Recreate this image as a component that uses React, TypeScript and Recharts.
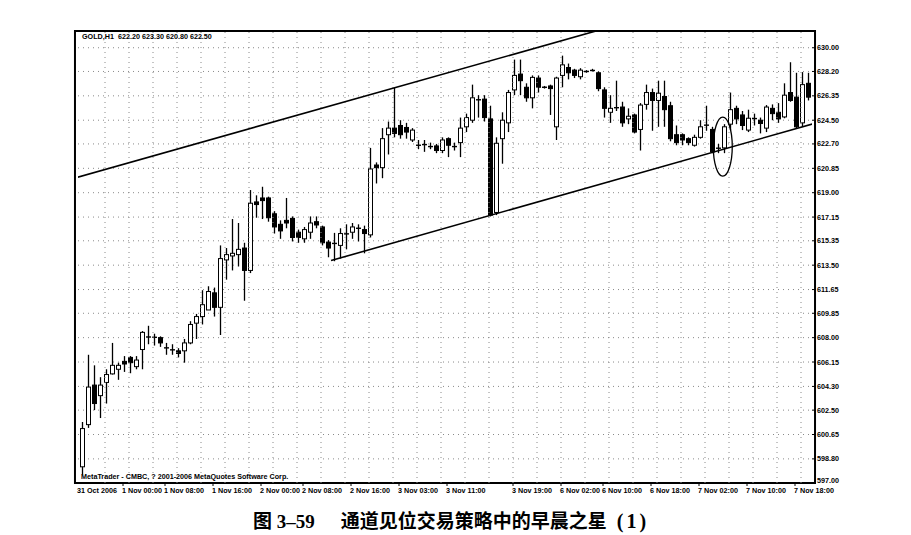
import React from 'react'
import {
  ComposedChart,
  Bar,
  XAxis,
  YAxis,
  CartesianGrid,
  ReferenceLine,
  ReferenceArea,
  ReferenceDot,
} from 'recharts'

// GOLD H1, 31 Oct – 7 Nov 2006
const opens = [
  598.2, 601.4, 604.4, 603.6, 604.6, 605.25, 605.6, 606.2, 606.5, 605.8,
  607.1, 608.0, 608.0, 608.0, 607.2, 607.1, 607.0, 607.0, 607.6, 609.1,
  609.6, 610.1, 611.4, 610.3, 613.9, 614.2, 614.3, 614.8, 613.1, 618.3,
  618.6, 618.6, 617.4, 616.6, 616.9, 617.05, 616.0, 615.5, 616.0, 616.8,
  616.4, 615.25, 615.1, 615.0, 615.85, 616.0, 616.3, 616.2, 615.8, 621.1,
  620.9, 623.4, 623.9, 624.1, 623.95, 623.0, 622.6, 622.6, 622.5, 622.55,
  622.2, 623.1, 622.5, 622.8, 624.0, 624.5, 626.1, 626.1, 624.6, 617.5,
  623.1, 624.3, 626.8, 628.0, 627.0, 626.2, 627.7, 627.0, 627.1, 624.0,
  627.9, 628.5, 628.3, 627.8, 628.2, 628.25, 628.1, 626.8, 625.1, 625.5,
  625.5, 624.6, 624.9, 623.8, 625.7, 626.6, 626.0, 626.3, 625.6, 623.4,
  623.4, 623.1, 622.6, 623.2, 624.1, 623.8, 622.35, 622.4, 624.2, 625.4,
  624.9, 623.75, 624.6, 624.5, 623.9, 625.4, 625.1, 624.75, 626.6, 626.25,
  624.3, 627.3,
]
const highs = [
  601.6, 606.7, 605.9, 605.0, 605.6, 607.6, 606.1, 606.6, 606.6, 606.6,
  608.5, 608.9, 608.3, 608.1, 607.6, 607.5, 607.2, 607.9, 609.25, 609.8,
  611.6, 611.9, 611.8, 615.0, 614.8, 617.0, 616.7, 615.2, 619.2, 618.8,
  619.45, 618.7, 617.6, 616.9, 618.6, 617.2, 616.2, 616.4, 617.2, 617.2,
  616.5, 615.4, 615.95, 616.3, 616.6, 616.7, 616.6, 616.5, 622.4, 621.3,
  623.9, 624.4, 626.95, 624.5, 624.3, 623.9, 623.0, 623.0, 622.8, 622.7,
  623.2, 623.2, 622.8, 624.7, 625.0, 627.2, 626.4, 626.4, 625.6, 623.2,
  625.1, 626.8, 629.1, 629.1, 627.3, 627.9, 627.9, 627.1, 627.2, 627.8,
  629.4, 628.8, 628.4, 628.45, 628.3, 628.4, 628.2, 627.0, 626.4, 627.5,
  625.9, 625.4, 625.0, 625.8, 627.2, 626.9, 627.5, 627.5, 625.9, 624.1,
  623.5, 623.2, 623.4, 624.5, 625.6, 624.0, 622.7, 624.2, 626.6, 625.6,
  625.2, 625.3, 625.0, 624.7, 625.65, 625.7, 625.8, 627.3, 628.9, 628.1,
  628.15, 628.1,
]
const lows = [
  597.6, 601.15, 602.5, 601.9, 603.0, 605.2, 604.8, 605.4, 605.3, 605.6,
  605.6, 607.5, 607.4, 607.3, 606.7, 606.7, 606.5, 606.1, 607.5, 607.9,
  609.0, 610.1, 609.6, 608.2, 612.4, 613.1, 613.4, 610.8, 612.9, 617.1,
  617.0, 616.8, 615.9, 615.5, 616.3, 615.3, 615.2, 615.2, 615.5, 616.3,
  615.0, 614.1, 613.8, 614.0, 614.7, 615.5, 615.3, 614.4, 615.6, 619.7,
  620.1, 621.9, 623.2, 623.1, 623.1, 622.85, 622.3, 622.1, 622.3, 622.0,
  622.0, 621.7, 622.2, 621.7, 623.6, 624.3, 624.7, 624.4, 617.2, 617.3,
  621.2, 623.6, 626.4, 626.4, 625.9, 625.4, 626.6, 626.9, 624.9, 623.0,
  627.0, 627.6, 627.7, 627.6, 628.1, 628.2, 626.7, 624.7, 624.3, 625.2,
  624.0, 624.2, 623.5, 622.2, 625.3, 623.7, 624.0, 624.0, 622.9, 622.6,
  622.6, 622.6, 622.5, 623.1, 623.7, 622.0, 622.0, 622.0, 623.75, 624.2,
  623.75, 623.6, 624.1, 623.5, 623.6, 624.5, 624.3, 624.65, 625.9, 623.9,
  624.0, 626.0,
]
const closes = [
  601.1, 604.25, 603.0, 604.4, 605.2, 605.9, 605.9, 606.0, 606.1, 606.3,
  608.4, 608.1, 608.05, 607.6, 607.25, 607.05, 606.8, 607.6, 609.0, 609.6,
  610.5, 611.5, 610.3, 614.0, 614.3, 614.4, 614.7, 613.1, 618.2, 618.1,
  618.4, 617.1, 616.4, 616.1, 616.7, 615.6, 615.6, 616.2, 616.7, 616.55,
  615.2, 614.8, 615.2, 615.9, 615.9, 616.4, 616.3, 615.9, 620.8, 620.9,
  623.1, 623.9, 623.5, 623.4, 623.6, 623.75, 622.6, 622.7, 622.5, 622.2,
  623.0, 622.6, 622.5, 623.9, 624.7, 626.2, 626.0, 624.7, 617.3, 622.75,
  624.5, 626.6, 627.9, 627.5, 626.2, 627.75, 627.0, 627.0, 626.9, 627.7,
  628.7, 628.1, 627.9, 628.3, 628.2, 628.3, 626.9, 625.4, 625.4, 625.4,
  624.3, 624.8, 623.6, 625.65, 626.6, 626.0, 626.55, 625.3, 623.1, 622.8,
  623.0, 622.8, 623.2, 624.0, 624.15, 622.1, 622.4, 624.0, 625.3, 624.6,
  624.1, 624.65, 624.65, 624.25, 625.5, 625.0, 624.6, 626.4, 626.0, 624.0,
  627.2, 626.25,
]

const priceTicks = [
  597.0, 598.8, 600.65, 602.5, 604.3, 606.15, 608.0, 609.85, 611.65, 613.5,
  615.35, 617.15, 619.0, 620.85, 622.7, 624.5, 626.35, 628.2, 630.0,
]
const timeTickBars = [0, 7, 14, 22, 30, 37, 45, 53, 61, 72, 80, 87, 95, 103, 111, 119]
const timeTickLabels = [
  '31 Oct 2006', '1 Nov 00:00', '1 Nov 08:00', '1 Nov 16:00', '2 Nov 00:00',
  '2 Nov 08:00', '2 Nov 16:00', '3 Nov 03:00', '3 Nov 11:00', '3 Nov 19:00',
  '6 Nov 02:00', '6 Nov 10:00', '6 Nov 18:00', '7 Nov 02:00', '7 Nov 10:00',
  '7 Nov 18:00',
]

// channel lines: [bar, price] end points
const upperChannel: [number, number][] = [[-0.5, 620.12], [121.83, 635.96]]
const lowerChannel: [number, number][] = [[41.83, 613.85], [121.83, 624.27]]
const morningStar = { bar: 106.58, price: 622.5 }

const Y_MIN = 596.97
const Y_MAX = 631.27
const X_LAST = 121.83

const data = opens.map((o, i) => ({
  i,
  o,
  h: highs[i],
  l: lows[i],
  c: closes[i],
  range: [lows[i], highs[i]],
}))

const gridBars = data.filter((d) => d.i % 4 === 0 && d.i > 0).map((d) => d.i)

const FONT = '"Liberation Sans", Arial, sans-serif'
const GRID = '#8a8a8a'

function Candle(props: any) {
  const { x, y, width, height, payload } = props
  if (x == null || y == null || !payload) return null
  const top = Math.min(y, y + height)
  const span = Math.abs(height)
  const { o, h, l, c } = payload
  const k = h > l ? span / (h - l) : 0
  const py = (v: number) => top + (h - v) * k
  const cx = Math.round(x + width / 2) + 0.5
  const bTop = py(Math.max(o, c))
  const bBot = py(Math.min(o, c))
  const up = c >= o
  return (
    <g>
      <line x1={cx} x2={cx} y1={top} y2={top + span} stroke="#000" strokeWidth={1.3} />
      {bBot - bTop < 1.5 ? (
        <line x1={cx - 2.5} x2={cx + 2.5} y1={(bTop + bBot) / 2} y2={(bTop + bBot) / 2} stroke="#000" strokeWidth={1.4} />
      ) : (
        <rect x={cx - 2} y={bTop} width={4} height={bBot - bTop} fill={up ? '#fff' : '#000'} stroke="#000" strokeWidth={1} />
      )}
    </g>
  )
}

function TimeTick(props: any) {
  const { x, y, payload } = props
  const idx = timeTickBars.indexOf(payload.value)
  if (idx < 0) return null
  const first = idx === 0
  return (
    <g>
      {!first && <line x1={x} x2={x} y1={y - 8} y2={y - 5} stroke="#000" strokeWidth={1} />}
      <text x={first ? x - 4 : x - 1} y={y + 2} fontSize={7.2} fontWeight="bold" fontFamily={FONT} fill="#000">
        {timeTickLabels[idx]}
      </text>
    </g>
  )
}

function PriceTick(props: any) {
  const { x, y, payload } = props
  const lift = payload.value === priceTicks[0] ? -2 : 0
  return (
    <text x={x} y={y + lift} dy="0.355em" fontSize={7.2} fontWeight="bold" fontFamily={FONT} fill="#000">
      {Number(payload.value).toFixed(2)}
    </text>
  )
}

function Ellipse(props: any) {
  const { cx, cy } = props
  if (cx == null) return null
  return <ellipse cx={cx} cy={cy} rx={9.5} ry={29.5} fill="none" stroke="#000" strokeWidth={1.3} />
}

export default function App() {
  return (
    <div style={{ position: 'absolute', left: 0, top: 0, width: 911, height: 535, background: '#fff' }}>
      <ComposedChart
        width={911}
        height={535}
        data={data}
        margin={{ top: 31, right: 0, left: 78, bottom: 32 }}
      >
        <CartesianGrid vertical={false} stroke={GRID} strokeDasharray="1 4" />
        <XAxis
          dataKey="i"
          type="category"
          ticks={timeTickBars}
          interval={0}
          tick={<TimeTick />}
          tickLine={false}
          axisLine={false}
          tickSize={6}
          tickMargin={2}
          height={20}
          padding={{ left: 0, right: 2 }}
        />
        <XAxis
          xAxisId="num"
          type="number"
          domain={[-0.5, 121.5]}
          allowDataOverflow
          hide
          height={0}
          padding={{ left: 0, right: 2 }}
        />
        <YAxis
          orientation="right"
          width={99}
          domain={[Y_MIN, Y_MAX]}
          allowDataOverflow
          ticks={priceTicks}
          interval={0}
          tick={<PriceTick />}
          tickLine={{ stroke: '#000' }}
          tickSize={3}
          tickMargin={2}
          axisLine={false}
        />
        {gridBars.map((b) => (
          <ReferenceLine key={b} x={b} stroke={GRID} strokeDasharray="1 4" />
        ))}
        <Bar dataKey="range" barSize={5} shape={<Candle />} isAnimationActive={false} />
        <ReferenceLine
          xAxisId="num"
          segment={upperChannel.map(([x, y]) => ({ x, y }))}
          stroke="#000"
          strokeWidth={1.6}
          ifOverflow="hidden"
        />
        <ReferenceLine
          xAxisId="num"
          segment={lowerChannel.map(([x, y]) => ({ x, y }))}
          stroke="#000"
          strokeWidth={1.6}
          ifOverflow="hidden"
        />
        <ReferenceDot
          xAxisId="num"
          x={morningStar.bar}
          y={morningStar.price}
          shape={<Ellipse />}
        />
        <ReferenceArea
          xAxisId="num"
          x1={-0.5}
          x2={X_LAST}
          y1={Y_MIN}
          y2={Y_MAX}
          fill="none"
          stroke="#000"
          strokeWidth={2}
          ifOverflow="visible"
        />
      </ComposedChart>

      <div style={{ position: 'absolute', left: 82, top: 33, fontSize: 7.2, lineHeight: '8px', fontWeight: 'bold', fontFamily: FONT, whiteSpace: 'pre' }}>
        GOLD,H1  622.20 623.30 620.80 622.50
      </div>
      <div style={{ position: 'absolute', left: 81, top: 473, fontSize: 7.2, lineHeight: '8px', fontWeight: 'bold', fontFamily: FONT, whiteSpace: 'pre' }}>
        MetaTrader - CMBC, ? 2001-2006 MetaQuotes Software Corp.
      </div>
      <div
        style={{
          position: 'absolute',
          left: 253,
          top: 508,
          fontSize: 19,
          lineHeight: '24px',
          fontWeight: 700,
          fontFamily: '"Liberation Serif", "Noto Sans CJK SC", serif',
          whiteSpace: 'pre',
        }}
      >
        <span style={{ fontFamily: '"Noto Sans CJK SC"' }}>图</span>
        <span> 3–59</span>
        <span style={{ marginLeft: 26, fontFamily: '"Noto Sans CJK SC"' }}>通道见位交易策略中的早晨之星</span>
        <span style={{ marginLeft: 10, fontSize: 20, letterSpacing: 3 }}>(1)</span>
      </div>
    </div>
  )
}
